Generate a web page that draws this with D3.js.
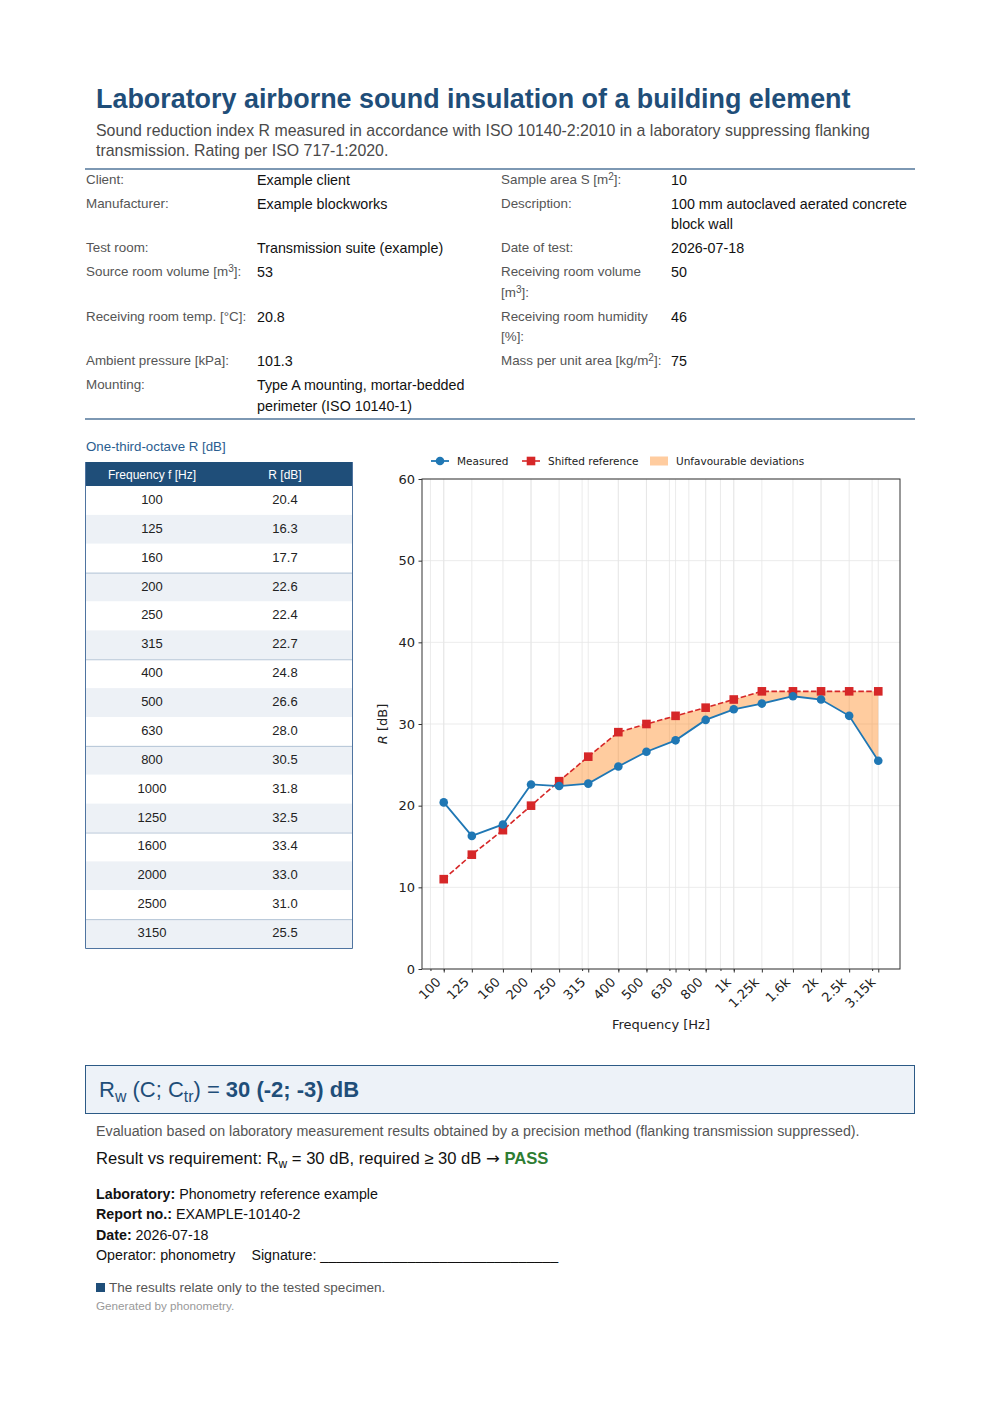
<!DOCTYPE html>
<html>
<head>
<meta charset="utf-8">
<script src="https://cdn.jsdelivr.net/npm/d3@7"></script>
<style>
body{margin:0;background:#fff;font-family:"Liberation Sans",Arial,sans-serif;color:#111;}
#page{position:relative;width:1000px;height:1415px;overflow:hidden;}
.abs{position:absolute;}
sup{font-size:0.75em;line-height:0;vertical-align:0.4em;}
.info{table-layout:fixed;border-collapse:collapse;width:830px;}
.info td{vertical-align:top;line-height:20.5px;padding:1.75px 0;}
.info td.lab{font-size:13.4px;color:#555;padding-left:1px;padding-right:6px;}
.info td.val{font-size:14.3px;color:#111;padding-right:0;}
.rule{height:1.5px;background:#7d98b3;width:830px;left:85px;}
.sub{font-size:0.72em;line-height:0;vertical-align:-0.3em;}
</style>
</head>
<body>
<div id="page"></div>
<script>
// one-third-octave bands
var freqs = [100, 125, 160, 200, 250, 315, 400, 500, 630, 800, 1000, 1250, 1600, 2000, 2500, 3150];
var freqLabels = ['100', '125', '160', '200', '250', '315', '400', '500', '630', '800', '1k', '1.25k', '1.6k', '2k', '2.5k', '3.15k'];
var measured = [20.4, 16.3, 17.7, 22.6, 22.4, 22.7, 24.8, 26.6, 28.0, 30.5, 31.8, 32.5, 33.4, 33.0, 31.0, 25.5];
var shiftedRef = [11, 14, 17, 20, 23, 26, 29, 30, 31, 32, 33, 34, 34, 34, 34, 34];
var yTicks = [0, 10, 20, 30, 40, 50, 60];
var minorTicks = [90, 100, 200, 300, 400, 500, 600, 700, 800, 900, 1000, 2000, 3000];
var legendNames = ['Measured', 'Shifted reference', 'Unfavourable deviations'];

var infoRows = [
	['Client:', 'Example client', 'Sample area S [m<sup>2</sup>]:', '10'],
	['Manufacturer:', 'Example blockworks', 'Description:', '100 mm autoclaved aerated concrete block wall'],
	['Test room:', 'Transmission suite (example)', 'Date of test:', '2026-07-18'],
	['Source room volume [m<sup>3</sup>]:', '53', 'Receiving room volume [m<sup>3</sup>]:', '50'],
	['Receiving room temp. [°C]:', '20.8', 'Receiving room humidity [%]:', '46'],
	['Ambient pressure [kPa]:', '101.3', 'Mass per unit area [kg/m<sup>2</sup>]:', '75'],
	['Mounting:', 'Type A mounting, mortar-bedded perimeter (ISO 10140-1)', '', '']
];

var blue = '#1f4e79';
var page = d3.select('#page');

// header
page.append('div').attr('class', 'abs')
	.style('left', '96px').style('top', '83px')
	.style('font-size', '26.9px').style('font-weight', 'bold').style('color', blue)
	.style('line-height', '32px').style('white-space', 'nowrap')
	.text('Laboratory airborne sound insulation of a building element');
page.append('div').attr('class', 'abs')
	.style('left', '96px').style('top', '121px').style('width', '810px')
	.style('font-size', '15.9px').style('color', '#4a4a4a').style('line-height', '20px')
	.text('Sound reduction index R measured in accordance with ISO 10140-2:2010 in a laboratory suppressing flanking transmission. Rating per ISO 717-1:2020.');

page.append('div').attr('class', 'abs rule').style('top', '168.25px');
var info = page.append('table').attr('class', 'abs info').style('left', '85px').style('top', '168px');
var cg = info.append('colgroup');
[172, 243, 171, 244].forEach(function (w) { cg.append('col').style('width', w + 'px'); });
var tr = info.selectAll('tr').data(infoRows).join('tr');
tr.selectAll('td').data(function (d) { return d; }).join('td')
	.attr('class', function (d, i) { return i % 2 === 0 ? 'lab' : 'val'; })
	.html(function (d) { return d; });
page.append('div').attr('class', 'abs rule').style('top', '418.25px');

page.append('div').attr('class', 'abs')
	.style('left', '86px').style('top', '439px').style('font-size', '13.3px')
	.style('line-height', '16px').style('color', '#2a5d8f')
	.text('One-third-octave R [dB]');

var svg = page.append('svg')
	.attr('width', 1000).attr('height', 1415)
	.style('position', 'absolute').style('left', 0).style('top', 0);

// --- band table
var tbl = {left: 85, right: 353, top: 462, head: 24, bottom: 948};
var rowY = d3.scaleBand().domain(d3.range(freqs.length)).range([tbl.top + tbl.head, tbl.bottom]);
var colX = d3.scalePoint().domain(['f', 'R']).range([152, 285]);
var tg = svg.append('g');
tg.append('rect').attr('x', tbl.left).attr('y', tbl.top)
	.attr('width', tbl.right - tbl.left).attr('height', tbl.head).attr('fill', blue);
tg.selectAll('.hd').data([['f', 'Frequency f [Hz]'], ['R', 'R [dB]']]).join('text')
	.attr('x', function (d) { return colX(d[0]); }).attr('y', tbl.top + tbl.head / 2 + 0.5)
	.attr('dy', '0.35em').attr('text-anchor', 'middle')
	.style('font-size', '12px').attr('fill', '#fff').text(function (d) { return d[1]; });
tg.selectAll('.rowbg').data(freqs).join('rect')
	.attr('x', tbl.left).attr('y', function (d, i) { return rowY(i); })
	.attr('width', tbl.right - tbl.left).attr('height', rowY.bandwidth())
	.attr('fill', function (d, i) { return i % 2 ? '#edf1f6' : '#fff'; });
tg.selectAll('.sep').data(freqs.filter(function (d, i) { return i > 0 && i % 3 === 0; })).join('line')
	.attr('x1', tbl.left).attr('x2', tbl.right)
	.attr('y1', function (d) { return rowY(freqs.indexOf(d)) + 0.5; })
	.attr('y2', function (d) { return rowY(freqs.indexOf(d)) + 0.5; })
	.attr('stroke', '#b4c4d6');
tg.selectAll('.fv').data(freqs).join('text')
	.attr('x', colX('f')).attr('y', function (d, i) { return rowY(i) + rowY.bandwidth() / 2 - 1; })
	.attr('dy', '0.35em').attr('text-anchor', 'middle')
	.style('font-size', '13px').attr('fill', '#222').text(function (d) { return d; });
tg.selectAll('.rv').data(measured).join('text')
	.attr('x', colX('R')).attr('y', function (d, i) { return rowY(i) + rowY.bandwidth() / 2 - 1; })
	.attr('dy', '0.35em').attr('text-anchor', 'middle')
	.style('font-size', '13px').attr('fill', '#222').text(function (d) { return d.toFixed(1); });
tg.append('path')
	.attr('d', 'M' + (tbl.left + 0.5) + ',' + tbl.top + 'V' + (tbl.bottom + 0.5) + 'H' + (tbl.right - 0.5) + 'V' + tbl.top)
	.attr('fill', 'none').attr('stroke', '#4f74a0');

// --- chart
var plot = {left: 422, right: 900, top: 479, bottom: 969};
var ext = d3.extent(freqs);
var pad = Math.pow(10, (Math.log10(ext[1]) - Math.log10(ext[0])) * 0.05);
var x = d3.scaleLog().domain([ext[0] / pad, ext[1] * pad]).range([plot.left, plot.right]);
var y = d3.scaleLinear().domain([0, 60]).range([plot.bottom, plot.top]);
var cg2 = svg.append('g').style('font-family', '"DejaVu Sans", sans-serif');

cg2.append('g').selectAll('line').data(minorTicks.concat(freqs)).join('line')
	.attr('x1', function (d) { return x(d); }).attr('x2', function (d) { return x(d); })
	.attr('y1', plot.top).attr('y2', plot.bottom)
	.attr('stroke', '#e6e6e6').attr('stroke-width', 0.8);
cg2.append('g').selectAll('line').data(yTicks).join('line')
	.attr('x1', plot.left).attr('x2', plot.right)
	.attr('y1', function (d) { return y(d); }).attr('y2', function (d) { return y(d); })
	.attr('stroke', '#e6e6e6').attr('stroke-width', 0.8);

// unfavourable deviations: where reference lies above measured
var pts = [];
freqs.forEach(function (f, i) {
	pts.push({f: f, m: measured[i], r: shiftedRef[i]});
	if (i < freqs.length - 1) {
		var d0 = shiftedRef[i] - measured[i], d1 = shiftedRef[i + 1] - measured[i + 1];
		if (d0 * d1 < 0) {
			var t = d0 / (d0 - d1);
			var lf = Math.log10(f) + t * (Math.log10(freqs[i + 1]) - Math.log10(f));
			var v = measured[i] + t * (measured[i + 1] - measured[i]);
			pts.push({f: Math.pow(10, lf), m: v, r: v});
		}
	}
});
cg2.append('path').datum(pts)
	.attr('d', d3.area()
		.x(function (d) { return x(d.f); })
		.y0(function (d) { return y(d.m); })
		.y1(function (d) { return y(Math.max(d.m, d.r)); }))
	.attr('fill', 'rgba(255,127,14,0.4)');

var line = d3.line().x(function (d, i) { return x(freqs[i]); }).y(function (d) { return y(d); });
cg2.append('path').datum(shiftedRef).attr('d', line)
	.attr('fill', 'none').attr('stroke', '#d62728').attr('stroke-width', 1.6)
	.attr('stroke-dasharray', '5.5,2.4');
cg2.append('g').selectAll('rect').data(shiftedRef).join('rect')
	.attr('x', function (d, i) { return x(freqs[i]) - 4.3; })
	.attr('y', function (d) { return y(d) - 4.3; })
	.attr('width', 8.6).attr('height', 8.6).attr('fill', '#d62728');
cg2.append('path').datum(measured).attr('d', line)
	.attr('fill', 'none').attr('stroke', '#1f77b4').attr('stroke-width', 1.8);
cg2.append('g').selectAll('circle').data(measured).join('circle')
	.attr('cx', function (d, i) { return x(freqs[i]); })
	.attr('cy', function (d) { return y(d); })
	.attr('r', 4.3).attr('fill', '#1f77b4');

// axes
var xMajor = cg2.append('g').attr('transform', 'translate(0,' + plot.bottom + ')')
	.call(d3.axisBottom(x).tickValues(freqs).tickFormat('').tickSize(3.5));
var xMinor = cg2.append('g').attr('transform', 'translate(0,' + plot.bottom + ')')
	.call(d3.axisBottom(x).tickValues(minorTicks).tickFormat('').tickSize(2));
var yAx = cg2.append('g').attr('transform', 'translate(' + plot.left + ',0)')
	.call(d3.axisLeft(y).tickValues(yTicks).tickSize(3.5).tickPadding(3.5));
[xMajor, xMinor, yAx].forEach(function (g) {
	g.select('.domain').remove();
	g.selectAll('line').attr('stroke', '#333');
});
yAx.selectAll('text').style('font-size', '13px').attr('fill', '#222')
	.style('font-family', '"DejaVu Sans", sans-serif');

cg2.selectAll('.xlab').data(freqs).join('text')
	.attr('transform', function (d) { return 'translate(' + (x(d) - 2) + ',' + 983 + ') rotate(-45)'; })
	.attr('text-anchor', 'end').style('font-size', '13px').attr('fill', '#222')
	.text(function (d, i) { return freqLabels[i]; });

cg2.append('rect').attr('x', plot.left).attr('y', plot.top)
	.attr('width', plot.right - plot.left).attr('height', plot.bottom - plot.top)
	.attr('fill', 'none').attr('stroke', '#333').attr('stroke-width', 1);

cg2.append('text').attr('x', (plot.left + plot.right) / 2).attr('y', 1029)
	.attr('text-anchor', 'middle').style('font-size', '13px').attr('fill', '#222')
	.text('Frequency [Hz]');
var yl = cg2.append('text').attr('transform', 'translate(387,' + (plot.top + plot.bottom) / 2 + ') rotate(-90)')
	.attr('text-anchor', 'middle').style('font-size', '13px').attr('fill', '#222');
yl.append('tspan').style('font-style', 'italic').text('R');
yl.append('tspan').text(' [dB]');

// legend
var lg = cg2.append('g').attr('transform', 'translate(0,461)');
var lx = [431, 522, 650];
lg.append('line').attr('x1', lx[0]).attr('x2', lx[0] + 18).attr('stroke', '#1f77b4').attr('stroke-width', 1.8);
lg.append('circle').attr('cx', lx[0] + 9).attr('r', 4.3).attr('fill', '#1f77b4');
lg.append('line').attr('x1', lx[1]).attr('x2', lx[1] + 18).attr('stroke', '#d62728').attr('stroke-width', 1.6);
lg.append('rect').attr('x', lx[1] + 4.7).attr('y', -4.3).attr('width', 8.6).attr('height', 8.6).attr('fill', '#d62728');
lg.append('rect').attr('x', lx[2]).attr('y', -4.5).attr('width', 18).attr('height', 9).attr('fill', 'rgba(255,127,14,0.4)');
lg.selectAll('text').data(legendNames).join('text')
	.attr('x', function (d, i) { return lx[i] + 26; }).attr('dy', '0.35em')
	.style('font-size', '10.5px').attr('fill', '#222').text(function (d) { return d; });

// result box
page.append('div').attr('class', 'abs')
	.style('left', '85px').style('top', '1065px').style('width', '830px').style('height', '49px')
	.style('box-sizing', 'border-box').style('border', '1.5px solid #2c5a86').style('background', '#edf2f8')
	.style('padding-left', '13px').style('line-height', '48px').style('font-size', '22px').style('color', blue)
	.html('R<span class="sub">w</span> (C; C<span class="sub">tr</span>) = <b>30 (-2; -3) dB</b>');

page.append('div').attr('class', 'abs')
	.style('left', '96px').style('top', '1122px').style('font-size', '14.25px').style('line-height', '18px')
	.style('color', '#555').style('white-space', 'nowrap')
	.text('Evaluation based on laboratory measurement results obtained by a precision method (flanking transmission suppressed).');
page.append('div').attr('class', 'abs')
	.style('left', '96px').style('top', '1149px').style('font-size', '16.6px').style('line-height', '20px')
	.style('color', '#111').style('white-space', 'nowrap')
	.html('Result vs requirement: R<span class="sub">w</span> = 30 dB, required ≥ 30 dB <span style="font-family:\'DejaVu Sans\'">→</span> <b style="color:#2e7d32">PASS</b>');

page.append('div').attr('class', 'abs')
	.style('left', '96px').style('top', '1184px').style('font-size', '14.25px').style('line-height', '20.4px')
	.style('color', '#111').style('white-space', 'nowrap')
	.html('<b>Laboratory:</b> Phonometry reference example<br><b>Report no.:</b> EXAMPLE-10140-2<br>' +
		'<b>Date:</b> 2026-07-18<br>Operator: phonometry<span style="margin-left:16px">Signature: ______________________________</span>');

page.append('div').attr('class', 'abs')
	.style('left', '96px').style('top', '1279px').style('font-size', '13.5px').style('line-height', '18px')
	.style('color', '#555').style('white-space', 'nowrap')
	.html('<span style="display:inline-block;width:9px;height:9px;background:' + blue + ';margin-right:4px"></span>The results relate only to the tested specimen.');
page.append('div').attr('class', 'abs')
	.style('left', '96px').style('top', '1299px').style('font-size', '11.7px').style('line-height', '14px')
	.style('color', '#999').style('white-space', 'nowrap')
	.text('Generated by phonometry.');
</script>
</body>
</html>
